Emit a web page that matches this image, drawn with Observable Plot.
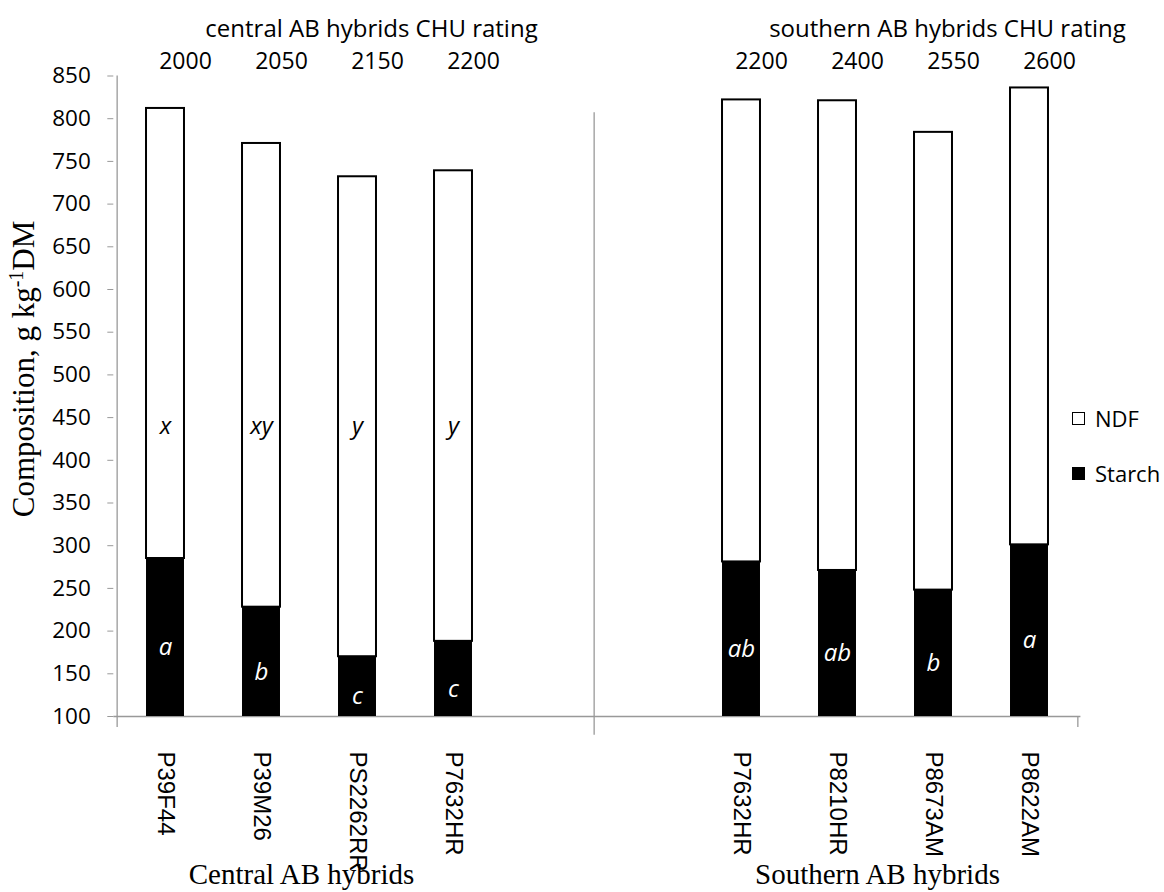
<!DOCTYPE html>
<html><head><meta charset="utf-8">
<script src="https://cdn.jsdelivr.net/npm/d3@7"></script>
<script src="https://cdn.jsdelivr.net/npm/@observablehq/plot@0.6"></script>
<style>
body{margin:0;background:#fff;}
#wrap{position:relative;width:1164px;height:892px;}
#wrap svg{position:absolute;left:0;top:0;}
g[aria-label="x-axis tick label"]{font-family:"Liberation Sans",Arial,sans-serif;font-size:24px;}
g[aria-label="y-axis tick label"]{font-family:"Open Sans",sans-serif;font-size:22.5px;}
g[aria-label="y-axis tick"]{stroke:#999;}
.leg{position:absolute;left:1072px;font-family:"Open Sans",sans-serif;font-size:22px;color:#000;display:flex;align-items:center;line-height:1;}
.leg span.sw{display:inline-block;width:13px;height:13px;margin-right:10px;box-sizing:border-box;}
</style></head><body><div id="wrap"></div>
<script>
// ---- data ----
const centralHybrids = ["P39F44", "P39M26", "PS2262RR", "P7632HR"];
const southernHybrids = ["P7632HR", "P8210HR", "P8673AM", "P8622AM"];
const centralCHU = ["2000", "2050", "2150", "2200"];
const southernCHU = ["2200", "2400", "2550", "2600"];
const centralStarch = [285, 228, 170, 188];
const southernStarch = [281, 271, 248, 301];
const centralNDF = [527, 543, 562, 551];
const southernNDF = [541, 550, 536, 535];
const centralStarchLetters = ["a", "b", "c", "c"];
const southernStarchLetters = ["ab", "ab", "b", "a"];
const centralNDFLetters = ["x", "xy", "y", "y"];
const southernNDFLetters = ["", "", "", ""];
const yTicks = [100,150,200,250,300,350,400,450,500,550,600,650,700,750,800,850];
const groupTitles = ["central AB hybrids CHU rating", "southern AB hybrids CHU rating"];
const groupLabels = ["Central AB hybrids", "Southern AB hybrids"];
const gapSlots = ["gap1", "gap2"];

// ---- build table ----
function mk(prefix, names, chu, starch, ndf, sl, nl) {
  return names.map((n, i) => ({key: prefix + "|" + n, name: n, chu: chu[i], starch: starch[i], ndf: ndf[i], sLetter: sl[i], nLetter: nl[i]}));
}
const central = mk("C", centralHybrids, centralCHU, centralStarch, centralNDF, centralStarchLetters, centralNDFLetters);
const southern = mk("S", southernHybrids, southernCHU, southernStarch, southernNDF, southernStarchLetters, southernNDFLetters);
const rows = [...central, ...southern];
const xDomain = [...central.map(d => d.key), ...gapSlots, ...southern.map(d => d.key)];
const yMin = yTicks[0], yMax = yTicks[yTicks.length - 1];

const W = 1164, H = 892;
const mL = 113.3, mR = 83.6, mT = 75.5, mB = 176;
const band = (W - mL - mR) / xDomain.length;
const inset = band * 0.3;
const gray = "#999";

const titleRows = [
  {key: central[2].key, text: groupTitles[0]},
  {key: southern[2].key, text: groupTitles[1]}
];
const bottomRows = [
  {key: central[1].key, text: groupLabels[0]},
  {key: southern[1].key, text: groupLabels[1]}
];

const plot = Plot.plot({
  width: W, height: H,
  marginLeft: mL, marginRight: mR, marginTop: mT, marginBottom: mB,
  style: {fontFamily: "'Open Sans', sans-serif", fontSize: "22px", background: "white", color: "black", overflow: "visible"},
  x: {domain: xDomain, padding: 0, tickSize: 0, tickPadding: 35, tickRotate: 90,
      tickFormat: k => k.startsWith("gap") ? "" : k.split("|")[1], label: null},
  y: {domain: [yMin, yMax], ticks: yTicks, tickSize: 6, tickPadding: 17, label: null, tickFormat: d => String(d)},
  marks: [
    // axis lines
    Plot.ruleY([yMin], {stroke: gray, strokeWidth: 1.3}),
    Plot.ruleX([xDomain[0]], {dx: -band / 2, y1: yMin, y2: yMax, stroke: gray, strokeWidth: 1.3}),
    Plot.ruleX([xDomain[0]], {dx: -band / 2, y1: yMin, y2: yMin - 13, stroke: gray, strokeWidth: 1.3}),
    Plot.ruleX([xDomain[xDomain.length - 1]], {dx: band / 2, y1: yMin, y2: yMin - 13, stroke: gray, strokeWidth: 1.3}),
    // divider between groups
    Plot.ruleX([gapSlots[1]], {dx: -band / 2 - 3, y1: 807, y2: yMin - 22, stroke: gray, strokeWidth: 1.3}),
    // starch (bottom, black)
    Plot.barY(rows, {x: "key", y1: yMin, y2: "starch", fill: "black", insetLeft: inset, insetRight: inset}),
    // NDF (stacked on top, white)
    Plot.barY(rows, {x: "key", y1: "starch", y2: d => d.starch + d.ndf, fill: "white", stroke: "black", strokeWidth: 2, insetLeft: inset, insetRight: inset}),
    // significance letters
    Plot.text(rows, {x: "key", y: d => (yMin + d.starch) / 2, dy: 10, text: "sLetter", fill: "white", fontStyle: "italic", fontSize: 24}),
    Plot.text(rows, {x: "key", y: 440, text: "nLetter", fill: "black", fontStyle: "italic", fontSize: 24}),
    // CHU ratings
    Plot.text(rows, {x: "key", text: "chu", frameAnchor: "top", dy: -23, dx: 20, fontSize: 23}),
    Plot.text(titleRows, {x: "key", text: "text", frameAnchor: "top", dy: -56, dx: 14, fontSize: 24}),
    // group labels below
    Plot.text(bottomRows, {x: "key", text: "text", frameAnchor: "bottom", dy: 167, dx: 40, fontSize: 29, fontFamily: "'Liberation Serif', 'Times New Roman', serif"})
  ]
});

const wrap = document.getElementById("wrap");
wrap.appendChild(plot);

// y-axis title with superscript
const svg = d3.select(plot);
const t = svg.append("text")
  .attr("transform", "translate(34,369) rotate(-90)")
  .attr("text-anchor", "middle")
  .attr("font-family", "'Liberation Serif', 'Times New Roman', serif")
  .attr("font-size", 31)
  .attr("fill", "black");
t.append("tspan").text("Composition, g kg");
t.append("tspan").attr("dy", -11).attr("font-size", 20).text("-1");
t.append("tspan").attr("dy", 11).text("DM");

// legend
const legendItems = [{label: "NDF", fill: "white"}, {label: "Starch", fill: "black"}];
legendItems.forEach((it, i) => {
  const d = document.createElement("div");
  d.className = "leg";
  d.style.top = (407 + i * 55) + "px";
  d.innerHTML = `<span class="sw" style="background:${it.fill};border:1.3px solid #000"></span><span>${it.label}</span>`;
  wrap.appendChild(d);
});
</script>
</body></html>
